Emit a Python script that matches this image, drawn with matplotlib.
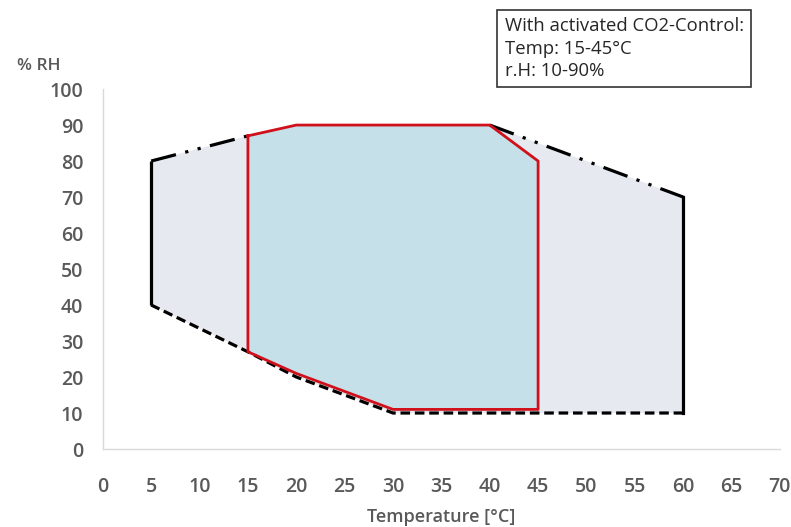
import matplotlib
matplotlib.use("Agg")
from matplotlib import pyplot as plt
from matplotlib.patches import Polygon

plt.rcParams["font.family"] = ["Open Sans", "DejaVu Sans"]

# ---------------------------------------
# Operating range without CO2-Control
# ---------------------------------------
outer_t = [5, 15, 20, 40, 60, 60, 30, 20, 15, 5]
outer_rh = [80, 87, 90, 90, 70, 10, 10, 20, 27, 40]

# ---------------------------------------
# Operating range with CO2-Control (red)
# ---------------------------------------
inner_t = [15, 20, 40, 45, 45, 30, 20, 15]
inner_rh = [87, 90, 90, 80, 11, 11, 21, 27]

x_ticks = list(range(0, 75, 5))
y_ticks = list(range(0, 110, 10))
box_text = "With activated CO2-Control:\nTemp: 15-45°C\nr.H: 10-90%"

tick_col = "#595959"

fig = plt.figure(figsize=(7.91, 5.27), dpi=100)
ax = fig.add_axes([0.130, 0.148, 0.856, 0.683])

ax.add_patch(Polygon(list(zip(outer_t, outer_rh)), closed=True,
                     facecolor="#e7e9f0", edgecolor="none", zorder=1))
ax.add_patch(Polygon(list(zip(inner_t, inner_rh)), closed=True,
                     facecolor="#c5e0e8", edgecolor="none", zorder=2))

lw = 2.3
dash_dot = (8, 3, 1, 3, 1, 3)
# left edge, solid
ax.plot(outer_t[-1:] + outer_t[:1], outer_rh[-1:] + outer_rh[:1],
        color="black", lw=lw, solid_capstyle="butt", zorder=3)
# top edge, dash-dot-dot (middle part hidden below the red outline)
ax.plot(outer_t[0:2], outer_rh[0:2], color="black", lw=lw,
        dashes=dash_dot, zorder=3)
ax.plot(outer_t[3:5], outer_rh[3:5], color="black", lw=lw,
        dashes=dash_dot, zorder=3)
# right edge, solid
ax.plot(outer_t[4:6], outer_rh[4:6], color="black", lw=lw, zorder=3)
# bottom edge, dashed
ax.plot(outer_t[5:], outer_rh[5:], color="black", lw=lw,
        dashes=(3, 1.5), zorder=3)

# CO2 range outline
ax.plot(inner_t + inner_t[:1], inner_rh + inner_rh[:1],
        color="#d0101a", lw=2.0, zorder=4)

ax.set_xlim(0, 70)
ax.set_ylim(0, 100)
ax.set_xticks(x_ticks)
ax.set_yticks(y_ticks)
ax.tick_params(length=0, labelsize=14, labelcolor=tick_col)
ax.tick_params(axis="x", pad=20)
ax.tick_params(axis="y", pad=14)
for lab in ax.get_xticklabels() + ax.get_yticklabels():
    lab.set_fontweight("semibold")

for s in ["top", "right"]:
    ax.spines[s].set_visible(False)
for s in ["left", "bottom"]:
    ax.spines[s].set_color("#d9d9d9")
    ax.spines[s].set_linewidth(1)

ax.set_xlabel("Temperature [°C]", fontsize=13, color=tick_col,
              fontweight="semibold", labelpad=8)
fig.text(0.022, 0.875, "% RH", fontsize=12.5, color=tick_col,
         fontweight="semibold", ha="left", va="center")

fig.text(0.638, 0.967, box_text, fontsize=13.3, color="#262626",
         ha="left", va="top", linespacing=1.3,
         bbox=dict(boxstyle="square,pad=0.4", facecolor="white",
                   edgecolor="#333333", linewidth=1.2))

fig.savefig("out.png", dpi=100)
